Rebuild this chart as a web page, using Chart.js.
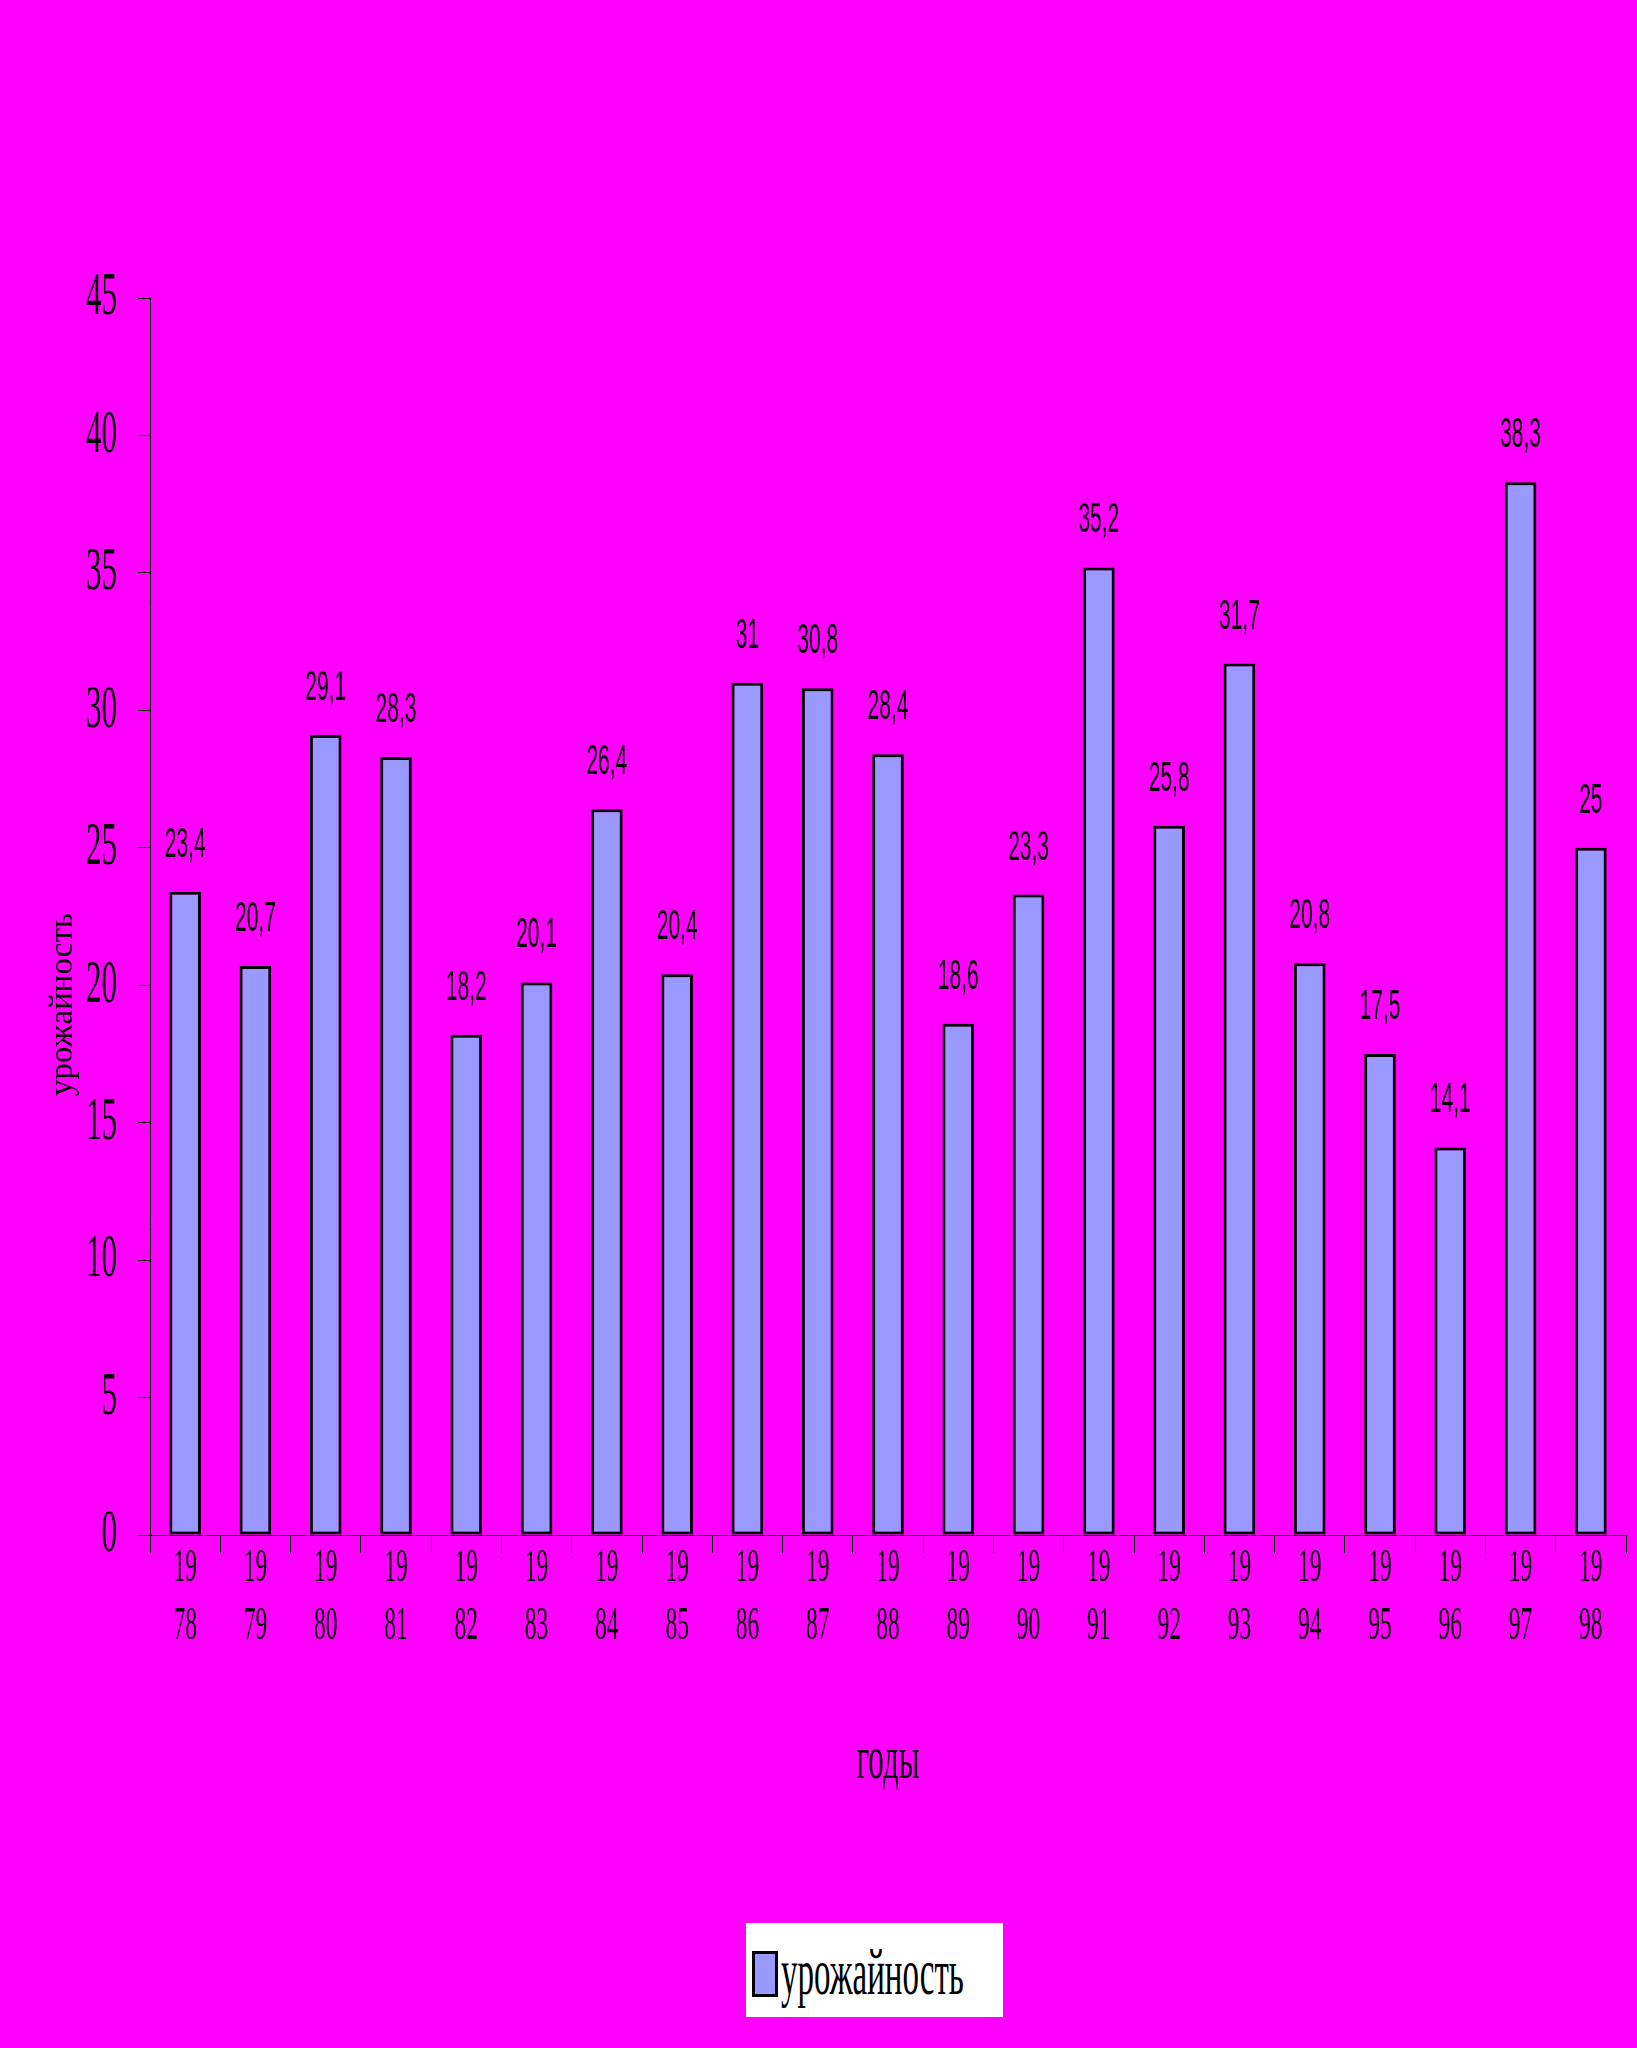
<!DOCTYPE html>
<html>
<head>
<meta charset="utf-8">
<script src="https://cdn.jsdelivr.net/npm/chart.js@4"></script>
<style>
  html, body { margin: 0; padding: 0; background: #FF00FF; }
  #wrap { position: relative; width: 1637px; height: 2048px; }
  #c { position: absolute; left: 0; top: 0; }
  #legend { position: absolute; left: 746px; top: 1923px; width: 257px; height: 94px; background: #FFFFFF; }
  #legend .box { position: absolute; left: 6px; top: 28px; width: 26px; height: 46px; box-sizing: border-box; border: 3px solid #000; }
  #legend .txt { position: absolute; left: 35px; top: 16px; font-family: "Liberation Serif"; font-size: 66px; line-height: 1; white-space: nowrap; transform: scaleX(0.5); transform-origin: 0 0; color: #000; }
</style>
</head>
<body>
<div id="wrap">
  <canvas id="c" width="1637" height="2048"></canvas>
  <div id="legend"></div>
</div>
<script>
// ---- data ----
const years = ['1978','1979','1980','1981','1982','1983','1984','1985','1986','1987','1988','1989','1990','1991','1992','1993','1994','1995','1996','1997','1998'];
const yields = [23.4, 20.7, 29.1, 28.3, 18.2, 20.1, 26.4, 20.4, 31, 30.8, 28.4, 18.6, 23.3, 35.2, 25.8, 31.7, 20.8, 17.5, 14.1, 38.3, 25];
const seriesName = 'урожайность';
const xTitle = 'годы';
const yTitle = 'урожайность';
const yMin = 0, yMax = 45, yStep = 5;

// ---- condensed text rendering (fonts named "Liberation ..." are drawn narrow) ----
const canvas = document.getElementById('c');
const ctx = canvas.getContext('2d');
const CONDENSE = 0.5;
const origFill = ctx.fillText.bind(ctx);
const origMeasure = ctx.measureText.bind(ctx);
function condenseFactor() { return /Liberation/.test(ctx.font) ? CONDENSE : 1; }
ctx.fillText = function (t, x, y, mw) {
  const f = condenseFactor();
  if (f === 1) return mw === undefined ? origFill(t, x, y) : origFill(t, x, y, mw);
  ctx.save();
  ctx.translate(x, y);
  ctx.scale(f, 1);
  origFill(t, 0, 0);
  ctx.restore();
};
ctx.measureText = function (t) {
  const m = origMeasure(t);
  const f = condenseFactor();
  if (f === 1) return m;
  return {
    width: m.width * f,
    actualBoundingBoxAscent: m.actualBoundingBoxAscent,
    actualBoundingBoxDescent: m.actualBoundingBoxDescent,
    actualBoundingBoxLeft: m.actualBoundingBoxLeft * f,
    actualBoundingBoxRight: m.actualBoundingBoxRight * f,
    fontBoundingBoxAscent: m.fontBoundingBoxAscent,
    fontBoundingBoxDescent: m.fontBoundingBoxDescent
  };
};

const barFill = '#9999FF';

const valueLabels = {
  id: 'valueLabels',
  afterDatasetsDraw(chart) {
    const c = chart.ctx;
    const meta = chart.getDatasetMeta(0);
    const data = chart.data.datasets[0].data;
    c.save();
    c.font = '42px "Liberation Sans"';
    c.fillStyle = '#000';
    c.textAlign = 'center';
    c.textBaseline = 'alphabetic';
    meta.data.forEach((bar, i) => {
      const txt = String(data[i]).replace('.', ',');
      c.fillText(txt, bar.x, bar.y - 35);
    });
    c.restore();
  }
};

// y-axis title, rotated, sitting left of the tick labels and a bit below the axis middle
const yAxisTitle = {
  id: 'yAxisTitle',
  afterDraw(chart) {
    const c = chart.ctx;
    const ys = chart.scales.y;
    const ca = chart.chartArea;
    c.save();
    c.font = '33px "Times New Roman"';
    c.fillStyle = '#000';
    c.textAlign = 'center';
    c.textBaseline = 'alphabetic';
    c.translate(ys.left + 72, (ca.top + ca.bottom) / 2 + 88);
    c.rotate(-Math.PI / 2);
    c.fillText(yTitle, 0, 0);
    c.restore();
  }
};

const chart = new Chart(ctx, {
  type: 'bar',
  data: {
    labels: years,
    datasets: [{
      label: seriesName,
      data: yields,
      backgroundColor: barFill,
      borderColor: '#000000',
      borderWidth: 3,
      borderSkipped: false,
      barPercentage: 0.45,
      categoryPercentage: 1.0
    }]
  },
  options: {
    responsive: false,
    animation: false,
    devicePixelRatio: 1,
    layout: { padding: { top: 298, left: 0, right: 11, bottom: 0 } },
    plugins: {
      legend: { display: false },
      tooltip: { enabled: false },
      title: { display: false }
    },
    scales: {
      x: {
        offset: true,
        grid: { display: true, drawOnChartArea: false, drawTicks: true, tickLength: 18, offset: true, color: '#000', lineWidth: 1 },
        border: { display: true, color: '#000', width: 1 },
        ticks: {
          autoSkip: false, maxRotation: 0, minRotation: 0,
          padding: -13,
          color: '#000',
          font: { family: 'Liberation Serif', size: 47, lineHeight: 1.234 },
          callback: function (v, i) { const y = years[i]; return [y.slice(0, 2), y.slice(2)]; }
        },
        title: {
          display: true, text: xTitle, color: '#000',
          font: { family: 'Liberation Serif', size: 62, lineHeight: 1.2 },
          padding: { top: 0, bottom: 249 }
        },
        afterFit(scale) { scale.height = 513; }
      },
      y: {
        min: yMin, max: yMax,
        grid: { display: true, drawOnChartArea: false, drawTicks: true, tickLength: 12, color: '#000', lineWidth: 1 },
        border: { display: true, color: '#000', width: 1 },
        ticks: {
          stepSize: yStep, padding: 21, color: '#000',
          font: { family: 'Liberation Serif', size: 62, lineHeight: 1.2 }
        },
        title: { display: false },
        afterFit(scale) { scale.width = 150; }
      }
    }
  },
  plugins: [valueLabels, yAxisTitle]
});

// ---- legend built from the chart's dataset ----
const lg = document.getElementById('legend');
chart.data.datasets.forEach(ds => {
  const box = document.createElement('div');
  box.className = 'box';
  box.style.background = ds.backgroundColor;
  const txt = document.createElement('span');
  txt.className = 'txt';
  txt.textContent = ds.label;
  lg.appendChild(box);
  lg.appendChild(txt);
});
</script>
</body>
</html>
